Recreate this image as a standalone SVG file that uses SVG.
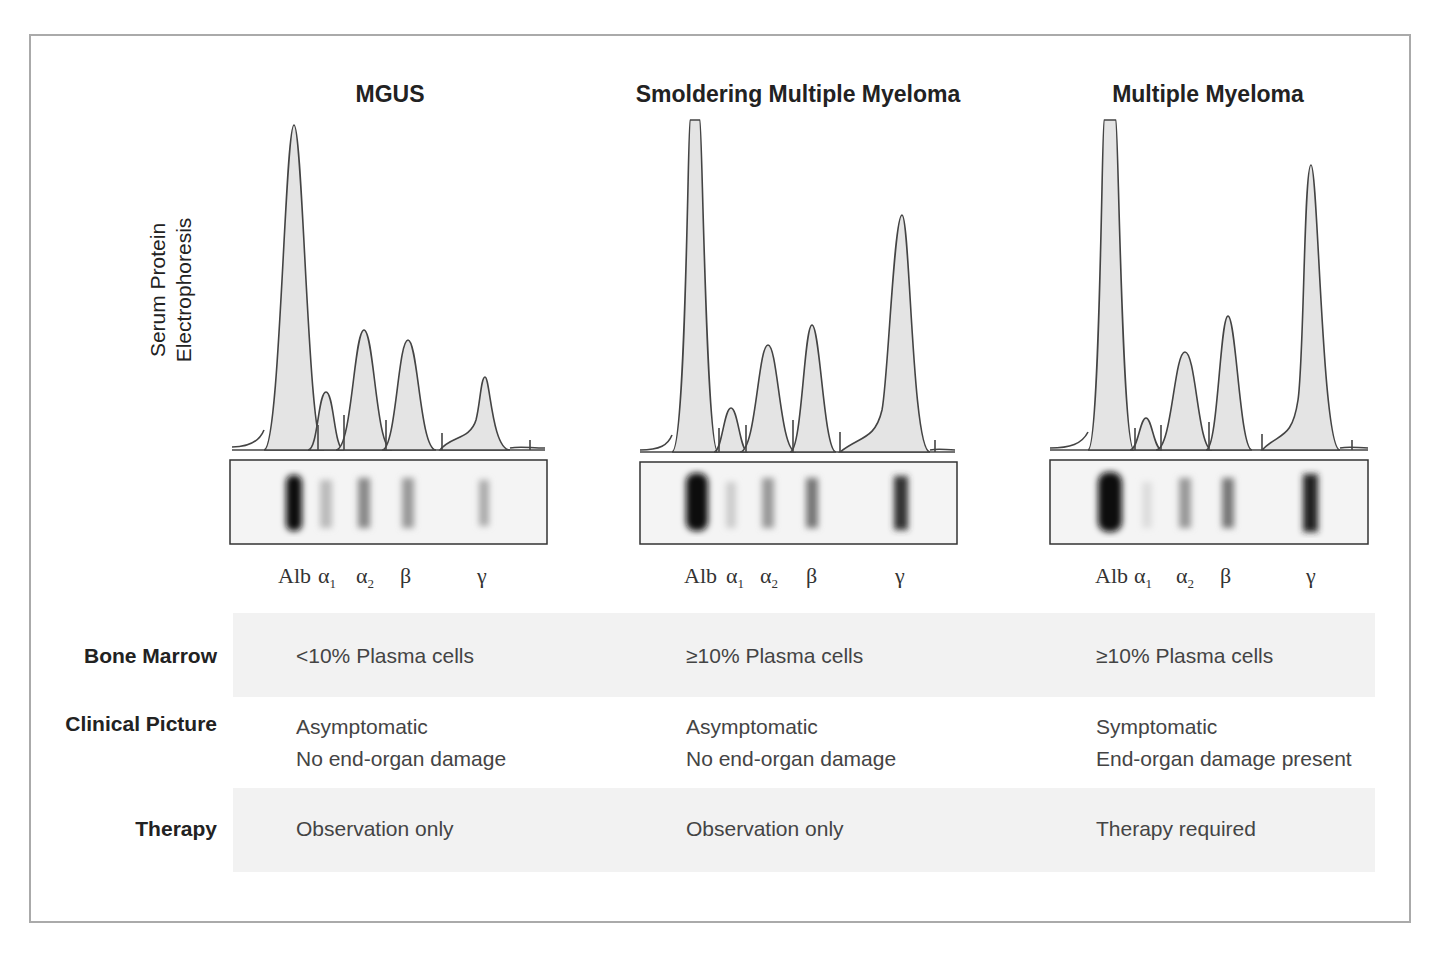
<svg xmlns="http://www.w3.org/2000/svg" width="1440" height="959" viewBox="0 0 1440 959">
<style>
.t{font-family:"Liberation Sans",Arial,sans-serif;fill:#222}
.h{font-size:23px;font-weight:bold}
.l{font-size:21px;font-weight:bold;text-anchor:end}
.c{font-size:21px;fill:#444}
.g{font-family:"Liberation Serif",serif;font-size:22px;fill:#333}
.pk{fill:#e4e4e4;stroke:#444;stroke-width:1.6}
.gel{fill:#f4f4f4;stroke:#333;stroke-width:1.5}
.ax{stroke:#444;stroke-width:1.6;fill:none}
</style>
<defs>
<filter id="bl"><feGaussianBlur stdDeviation="3"/></filter>
</defs>
<rect width="1440" height="959" fill="#fff"/>
<rect x="30" y="35" width="1380" height="887" fill="none" stroke="#aaa" stroke-width="2"/>
<text class="t h" x="390" y="102" text-anchor="middle">MGUS</text>
<text class="t h" x="798" y="102" text-anchor="middle">Smoldering Multiple Myeloma</text>
<text class="t h" x="1208" y="102" text-anchor="middle">Multiple Myeloma</text>
<g transform="translate(165,290) rotate(-90)"><text class="t" font-size="21" text-anchor="middle" x="0" y="0">Serum Protein</text><text class="t" font-size="21" text-anchor="middle" x="0" y="26">Electrophoresis</text></g>
<g id="chart1">
<line class="ax" x1="232" y1="450" x2="545" y2="450"/>
<path class="pk" d="M264,450 C280,450 285,125 294,125 C303,125 308,450 324,450Z"/>
<path class="pk" d="M308,450 C318,450 318,392 326,392 C334,392 334,450 344,450Z"/>
<path class="pk" d="M336,450 C352,450 354,330 364,330 C374,330 376,450 392,450Z"/>
<path class="pk" d="M382,450 C396,450 398,340 408,340 C418,340 420,450 436,450Z"/>
<path class="pk" d="M440,450 C450,436 470,440 476,420 C480,405 481,377 485,377 C490,377 492,450 510,450Z"/>
<path class="ax" d="M232,447 C250,447 260,440 264,430 M510,448 C520,446 530,448 545,448"/>
<g class="ax"><line x1="318" y1="425" x2="318" y2="450"/><line x1="344" y1="415" x2="344" y2="450"/><line x1="386" y1="420" x2="386" y2="450"/><line x1="442" y1="433" x2="442" y2="450"/><line x1="530" y1="440" x2="530" y2="450"/></g>
<rect class="gel" x="230" y="460" width="317" height="84"/>
<g filter="url(#bl)"><rect x="286" y="475" width="16" height="56" rx="7" fill="#111"/><rect x="320" y="480" width="12" height="48" fill="#bbb"/><rect x="358" y="478" width="12" height="50" fill="#888"/><rect x="402" y="478" width="12" height="50" fill="#999"/><rect x="479" y="480" width="10" height="46" fill="#aaa"/></g>
<text class="g" x="278" y="583">Alb</text><text class="g" x="318" y="583">α<tspan font-size="13" dy="5">1</tspan></text><text class="g" x="356" y="583">α<tspan font-size="13" dy="5">2</tspan></text><text class="g" x="400" y="583">β</text><text class="g" x="477" y="583">γ</text>
</g>
<g id="chart2">
<line class="ax" x1="640" y1="452" x2="955" y2="452"/>
<path class="pk" d="M672,452 C686,452 688,120 690,120 L700,120 C702,120 706,452 718,452Z"/>
<path class="pk" d="M714,452 C722,452 724,408 731,408 C738,408 740,452 748,452Z"/>
<path class="pk" d="M740,452 C756,452 758,345 768,345 C778,345 780,452 796,452Z"/>
<path class="pk" d="M790,452 C802,452 804,325 812,325 C820,325 824,452 836,452Z"/>
<path class="pk" d="M840,452 C860,436 875,440 882,410 C888,380 894,215 902,215 C910,215 912,452 930,452Z"/>
<path class="ax" d="M640,450 C660,450 668,445 672,435 M930,450 C940,448 945,450 955,450"/>
<g class="ax"><line x1="719" y1="428" x2="719" y2="452"/><line x1="746" y1="425" x2="746" y2="452"/><line x1="793" y1="420" x2="793" y2="452"/><line x1="840" y1="432" x2="840" y2="452"/><line x1="935" y1="440" x2="935" y2="452"/></g>
<rect class="gel" x="640" y="462" width="317" height="82"/>
<g filter="url(#bl)"><rect x="686" y="473" width="22" height="58" rx="9" fill="#111"/><rect x="726" y="482" width="10" height="46" fill="#ccc"/><rect x="762" y="478" width="12" height="50" fill="#999"/><rect x="806" y="478" width="12" height="50" fill="#777"/><rect x="894" y="476" width="14" height="54" fill="#333"/></g>
<text class="g" x="684" y="583">Alb</text><text class="g" x="726" y="583">α<tspan font-size="13" dy="5">1</tspan></text><text class="g" x="760" y="583">α<tspan font-size="13" dy="5">2</tspan></text><text class="g" x="806" y="583">β</text><text class="g" x="895" y="583">γ</text>
</g>
<g id="chart3">
<line class="ax" x1="1050" y1="450" x2="1368" y2="450"/>
<path class="pk" d="M1088,450 C1100,450 1102,120 1104,120 L1116,120 C1118,120 1122,450 1134,450Z"/>
<path class="pk" d="M1130,450 C1138,450 1140,418 1146,418 C1152,418 1154,450 1162,450Z"/>
<path class="pk" d="M1156,450 C1172,450 1174,352 1185,352 C1196,352 1198,450 1212,450Z"/>
<path class="pk" d="M1206,450 C1218,450 1220,316 1228,316 C1236,316 1240,450 1252,450Z"/>
<path class="pk" d="M1262,450 C1280,432 1292,440 1298,400 C1304,360 1304,165 1311,165 C1318,165 1322,450 1340,450Z"/>
<path class="ax" d="M1050,448 C1070,448 1082,444 1088,432 M1340,448 C1350,446 1358,448 1368,448"/>
<g class="ax"><line x1="1135" y1="428" x2="1135" y2="450"/><line x1="1161" y1="425" x2="1161" y2="450"/><line x1="1209" y1="422" x2="1209" y2="450"/><line x1="1262" y1="434" x2="1262" y2="450"/><line x1="1352" y1="440" x2="1352" y2="450"/></g>
<rect class="gel" x="1050" y="460" width="318" height="84" stroke-width="2.2"/>
<g filter="url(#bl)"><rect x="1098" y="472" width="24" height="60" rx="10" fill="#0a0a0a"/><rect x="1142" y="482" width="10" height="46" fill="#ddd"/><rect x="1179" y="478" width="12" height="50" fill="#999"/><rect x="1222" y="478" width="12" height="50" fill="#777"/><rect x="1303" y="474" width="15" height="58" fill="#222"/></g>
<text class="g" x="1095" y="583">Alb</text><text class="g" x="1134" y="583">α<tspan font-size="13" dy="5">1</tspan></text><text class="g" x="1176" y="583">α<tspan font-size="13" dy="5">2</tspan></text><text class="g" x="1220" y="583">β</text><text class="g" x="1306" y="583">γ</text>
</g>
<rect x="233" y="613" width="1142" height="84" fill="#f2f2f2"/>
<rect x="233" y="788" width="1142" height="84" fill="#f2f2f2"/>
<text class="t l" x="217" y="663">Bone Marrow</text>
<text class="t l" x="217" y="731">Clinical Picture</text>
<text class="t l" x="217" y="836">Therapy</text>
<text class="t c" x="296" y="663">&lt;10% Plasma cells</text>
<text class="t c" x="686" y="663">≥10% Plasma cells</text>
<text class="t c" x="1096" y="663">≥10% Plasma cells</text>
<text class="t c" x="296" y="734">Asymptomatic</text><text class="t c" x="296" y="766">No end-organ damage</text>
<text class="t c" x="686" y="734">Asymptomatic</text><text class="t c" x="686" y="766">No end-organ damage</text>
<text class="t c" x="1096" y="734">Symptomatic</text><text class="t c" x="1096" y="766">End-organ damage present</text>
<text class="t c" x="296" y="836">Observation only</text>
<text class="t c" x="686" y="836">Observation only</text>
<text class="t c" x="1096" y="836">Therapy required</text>
</svg>
